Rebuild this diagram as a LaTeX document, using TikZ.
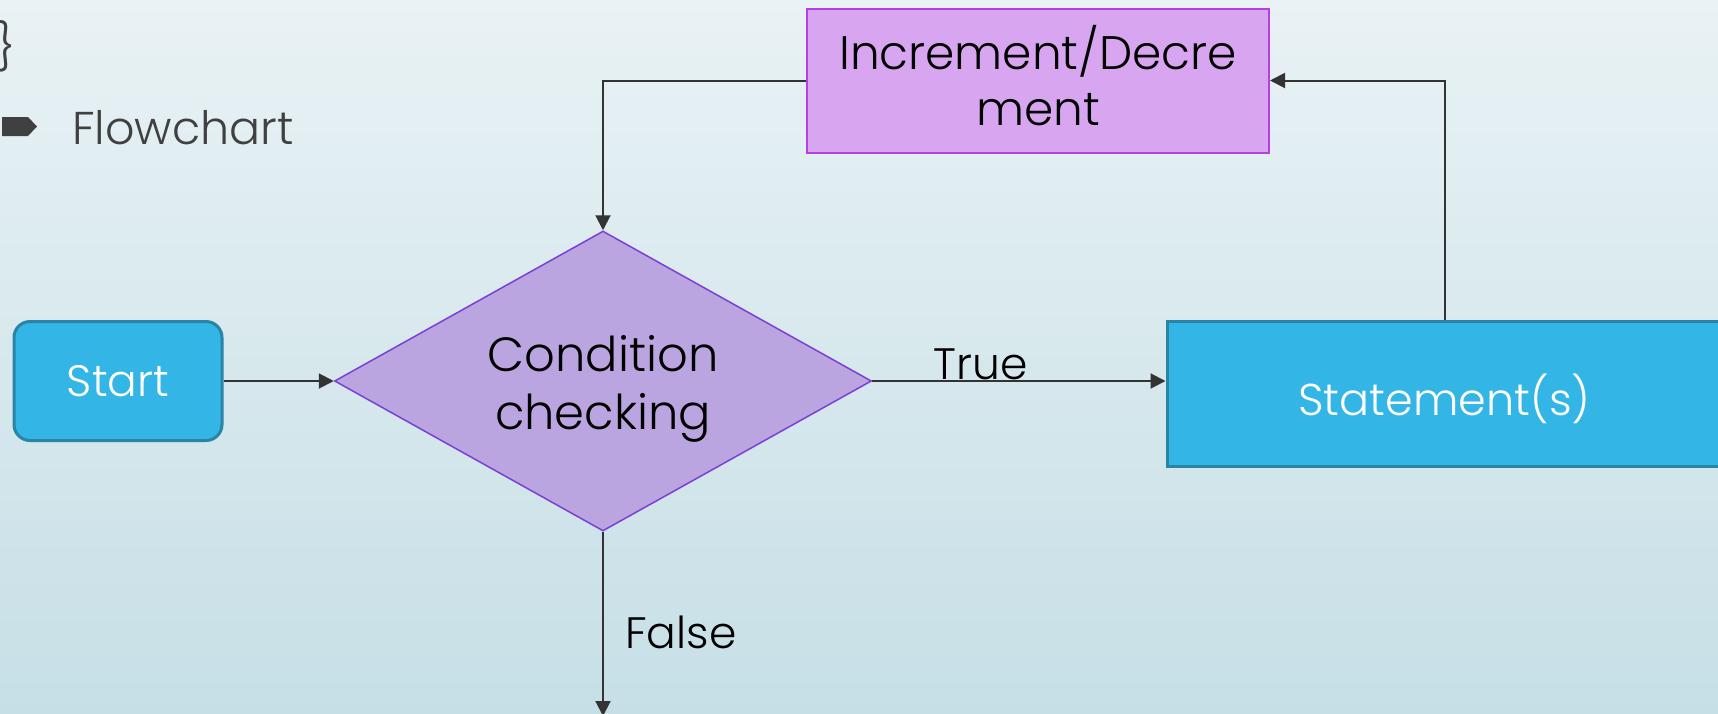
\documentclass[tikz,border=0pt]{standalone}
\usepackage{fontspec}
\setmainfont{Poppins Light}
\usetikzlibrary{shapes.geometric,arrows.meta}
\definecolor{bgtop}{HTML}{E9F2F5}
\definecolor{bgbot}{HTML}{C6DFE6}
\definecolor{bluefill}{HTML}{33B5E5}
\definecolor{blueedge}{HTML}{2A84A6}
\definecolor{diafill}{HTML}{BBA5E0}
\definecolor{diaedge}{HTML}{7B3FD6}
\definecolor{incfill}{HTML}{D8A5F0}
\definecolor{incedge}{HTML}{B53FE3}
\definecolor{arrowcol}{HTML}{333333}
\definecolor{graytext}{HTML}{404040}
\newcommand{\fsz}[2]{\fontsize{#1pt}{#2pt}\selectfont}
\newcommand{\shifted}[2]{\raisebox{#1}[\height][\depth]{#2}}
\newcommand{\twolines}[3]{\shifted{#1}{\setlength{\tabcolsep}{0pt}\begin{tabular}{c}#2\\#3\end{tabular}}}
\tikzset{
  bluebox/.style={draw=blueedge, line width=3pt, fill=bluefill, text=white, inner sep=0pt},
  condbox/.style={shape=diamond, draw=diaedge, line width=1.5pt, fill=diafill, inner sep=0pt, aspect=1.79},
  incbox/.style={draw=incedge, line width=2pt, fill=incfill, inner sep=0pt},
  conn/.style={draw=arrowcol, line width=2pt, -{Triangle[length=15pt,width=15pt]}},
  lbl/.style={inner sep=0pt, anchor=base}
}
\begin{document}
\begin{tikzpicture}[x=1pt,y=-1pt]
\path[use as bounding box] (0,0) rectangle (1718,713);
\shade[top color=bgtop, bottom color=bgbot] (0,0) rectangle (1718,713);
% top-left fragments
\node[inner sep=0pt, anchor=east, text=graytext, font=\fsz{46}{56}] (brace) at (16,46) {\}};
\fill[graytext] (2,117) -- (28,117) -- (37,126.5) -- (28,136) -- (2,136) -- cycle;
\node[lbl, anchor=base west, text=graytext, font=\fsz{46}{56}] (fc) at (72,144) {Flowchart};
% nodes
\node[bluebox, rounded corners=16pt, minimum width=208pt, minimum height=119pt, font=\fsz{44}{54}] (start) at (118,381) {Start};
\node[condbox, minimum width=537pt, minimum height=300pt, font=\fsz{48}{58}] (cond) at (603,381) {\twolines{-8pt}{Condition}{checking}};
\node[bluebox, minimum width=555pt, minimum height=145pt, font=\fsz{44.5}{54}] (stmt) at (1444.5,393.5) {\shifted{-5pt}{Statement(s)}};
\node[incbox, minimum width=462pt, minimum height=144pt, font=\fsz{47}{56}] (inc) at (1038,80.5) {\twolines{-3pt}{Increment/Decre}{ment}};
\coordinate (falseend) at (603,716);
% connectors
\draw[conn] (start.east) -- (cond.west);
\draw[conn] (cond.east) -- (cond.east -| stmt.west);
\node[lbl, font=\fsz{44}{54}] (truelbl) at (981,379) {True};
\draw[conn] (stmt.north) |- (inc.east);
\draw[conn] (inc.west) -| (cond.north);
\draw[conn] (cond.south) -- (falseend);
\node[lbl, anchor=base west, font=\fsz{44}{54}] (falselbl) at (625,648) {False};
\end{tikzpicture}
\end{document}
